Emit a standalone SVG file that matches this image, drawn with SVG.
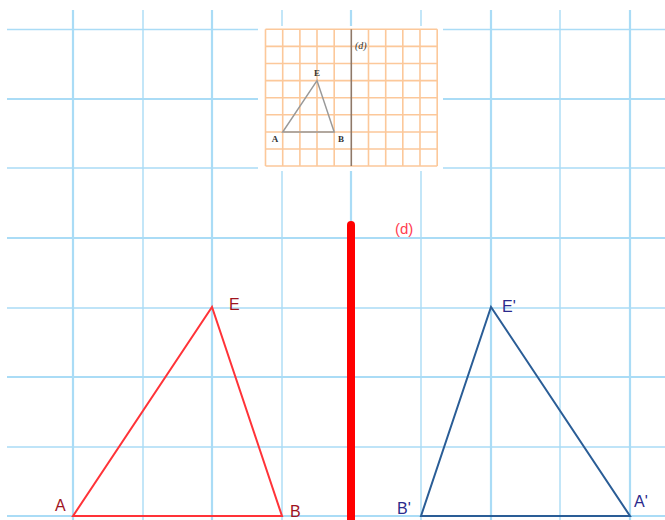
<svg xmlns="http://www.w3.org/2000/svg" width="665" height="520" viewBox="0 0 665 520">
<style>
.g{stroke:#aadcf6;fill:none}
.gt{stroke-width:2.2}
.gn{stroke-width:1.4}
.og{stroke:#fcc89a;stroke-width:1.6;fill:none}
.it{font-family:"Liberation Serif",serif;font-size:9px;font-weight:bold;fill:#333}
.itd{font-family:"Liberation Serif",serif;font-size:10px;font-style:italic;fill:#333}
.lr{font-family:"Liberation Sans",Arial,sans-serif;font-size:16px;fill:#a0141e}
.lb{font-family:"Liberation Sans",Arial,sans-serif;font-size:16px;fill:#2a2a8c}
</style>
<rect width="665" height="520" fill="#fff"/>
<g id="grid">
<path class="g gn" d="M7 29.5H665"/>
<path class="g gt" d="M7 99H665M7 238H665M7 377H665M7 516H665"/>
<path class="g gn" d="M7 168H665M7 308H665M7 447H665"/>
<path class="g gt" d="M73 10V520M212 10V520M351 10V520M491 10V520M630 10V520"/>
<path class="g gn" d="M143 10V520M282 10V520M421 10V520M560 10V520"/>
</g>
<g id="inset">
<rect x="258" y="26" width="185" height="145" fill="#fff"/>
<path class="og" d="M265.5 29.3V166M282.7 29.3V166M299.9 29.3V166M317 29.3V166M334.2 29.3V166M368.5 29.3V166M385.7 29.3V166M402.8 29.3V166M420 29.3V166M437.2 29.3V166"/>
<path class="og" d="M265.5 29.3H437.2M265.5 46.4H437.2M265.5 63.5H437.2M265.5 80.6H437.2M265.5 97.7H437.2M265.5 114.8H437.2M265.5 132H437.2M265.5 149H437.2M265.5 166H437.2"/>
<line x1="351.3" y1="29.3" x2="351.3" y2="166" stroke="#8e7868" stroke-width="1.6"/>
<polygon points="282.7,132 334.2,132 317,80.6" fill="none" stroke="#999" stroke-width="1.5"/>
<text x="355" y="49" class="itd">(d)</text>
<text x="317" y="76" class="it" text-anchor="middle">E</text>
<text x="275" y="142" class="it" text-anchor="middle">A</text>
<text x="341" y="142" class="it" text-anchor="middle">B</text>
</g>
<g id="axis-d">
<line x1="351" y1="225" x2="351" y2="524" stroke="#ff0000" stroke-width="8" stroke-linecap="round"/>
<text x="395" y="234" font-family="Liberation Sans,Arial,sans-serif" font-size="15" fill="#ff4050">(d)</text>
</g>
<g id="triangle-AEB">
<polygon points="73,516 212,307 282,516" fill="none" stroke="#ff3338" stroke-width="2"/>
<text x="55" y="511" class="lr">A</text>
<text x="229" y="310" class="lr">E</text>
<text x="290" y="517" class="lr" font-size="15">B</text>
</g>
<g id="triangle-A'E'B'">
<polygon points="421,516 491,307 630,516" fill="none" stroke="#2a5d96" stroke-width="2"/>
<text x="502" y="312" class="lb">E'</text>
<text x="397" y="514" class="lb">B'</text>
<text x="634" y="507" class="lb">A'</text>
</g>
</svg>
